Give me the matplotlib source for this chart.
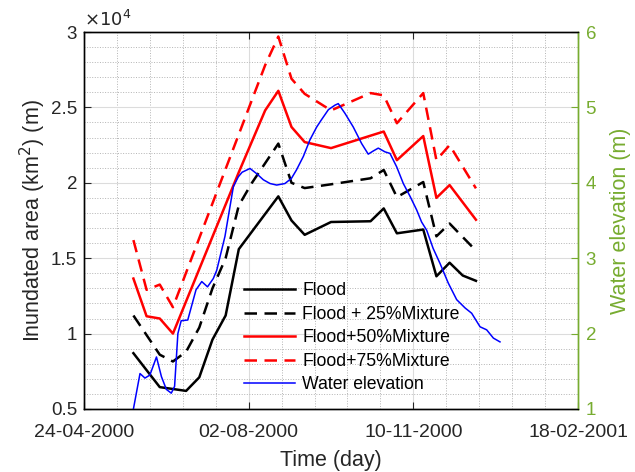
import numpy as np
import matplotlib
matplotlib.use("Agg")
import matplotlib.pyplot as plt
import matplotlib.dates as mdates
from matplotlib.ticker import MultipleLocator, FuncFormatter

plt.rcParams['font.family'] = ['Liberation Sans', 'DejaVu Sans']

# time axis starts on 24-04-2000, x values are days after that date
start = np.datetime64('2000-04-24')

# inundated area, in units of 10^4 km2
flood_day = [30, 46, 62, 70, 78, 86, 94, 118, 126, 134, 150, 174, 182, 190, 206, 214, 222, 230, 238]
flood = [0.87, 0.645, 0.62, 0.71, 0.96, 1.12, 1.56, 1.91, 1.75, 1.655, 1.74, 1.745, 1.83, 1.665, 1.69, 1.38, 1.47, 1.385, 1.35]

mix25_day = [30, 46, 54, 62, 70, 78, 86, 94, 102, 118, 126, 134, 150, 174, 182, 190, 206, 214, 222, 238]
mix25 = [1.12, 0.86, 0.815, 0.88, 1.04, 1.30, 1.50, 1.85, 2.0, 2.26, 2.0, 1.965, 1.99, 2.03, 2.085, 1.905, 2.005, 1.645, 1.73, 1.55]

mix50_day = [30, 38, 46, 54, 94, 110, 118, 126, 134, 150, 182, 190, 206, 214, 222, 238]
mix50 = [1.365, 1.115, 1.10, 1.0, 2.07, 2.48, 2.61, 2.37, 2.27, 2.23, 2.34, 2.15, 2.31, 1.90, 1.985, 1.755]

mix75_day = [30, 38, 46, 54, 110, 118, 126, 134, 150, 174, 182, 190, 206, 214, 222, 238]
mix75 = [1.62, 1.29, 1.325, 1.175, 2.78, 2.97, 2.69, 2.59, 2.48, 2.595, 2.58, 2.395, 2.595, 2.15, 2.25, 1.963]

# water elevation (m), right axis
wl_day = [30, 34, 37, 40, 44, 47, 50, 53, 55, 57, 59, 63, 65, 68, 71.5, 75, 78.5, 80.6, 83.6, 85.6,
          90.7, 93.7, 96, 100.8, 104.9, 108.9, 113, 117, 122, 126, 129, 133.2, 137.2, 141.3, 144,
          148.4, 152.4, 154.4, 158.5, 163.5, 168.6, 172.6, 175.5, 178.7, 182.8, 185.8, 189.9, 193.9,
          198, 202, 205, 208.1, 212, 216.2, 221.2, 226.3, 231.4, 235.4, 240.5, 244.5, 248.6, 252.6]
wl = [1.0, 1.47, 1.41, 1.45, 1.69, 1.43, 1.26, 1.21, 1.30, 2.0, 2.17, 2.18, 2.34, 2.58, 2.69, 2.62, 2.73, 2.84, 3.11, 3.29,
      3.95, 4.08, 4.14, 4.19, 4.12, 4.04, 3.99, 3.97, 3.99, 4.06, 4.17, 4.35, 4.57, 4.74, 4.83,
      4.97, 5.03, 5.05, 4.92, 4.74, 4.52, 4.38, 4.42, 4.46, 4.41, 4.39, 4.21, 3.99,
      3.82, 3.64, 3.48, 3.37, 3.13, 2.93, 2.67, 2.45, 2.34, 2.27, 2.09, 2.05, 1.94, 1.89]

date_ticks = ['2000-04-24', '2000-08-02', '2000-11-10', '2001-02-18']
green = '#77ac30'


def to_dates(days):
    return start + (np.array(days) * 24 * 60).astype('timedelta64[m]')


def main():
    fig = plt.figure(figsize=(6.35, 4.72), dpi=100)
    ax = fig.add_axes([0.1323, 0.1335, 0.7780, 0.7987])
    ax2 = ax.twinx()

    dash = (5, 3)
    lw = 1.8
    h1, = ax.plot(to_dates(flood_day), flood, color='k', lw=lw, label='Flood')
    h2, = ax.plot(to_dates(mix25_day), mix25, color='k', lw=lw, dashes=dash, label='Flood + 25%Mixture')
    h3, = ax.plot(to_dates(mix50_day), mix50, color='r', lw=lw, label='Flood+50%Mixture')
    h4, = ax.plot(to_dates(mix75_day), mix75, color='r', lw=lw, dashes=dash, label='Flood+75%Mixture')
    h5, = ax2.plot(to_dates(wl_day), wl, color='b', lw=1.1, label='Water elevation')

    # x axis
    ticks = [np.datetime64(d) for d in date_ticks]
    ax.set_xlim(ticks[0], ticks[-1])
    ax.set_xticks(ticks)
    ax.set_xticks(start + np.arange(0, 301, 20).astype('timedelta64[D]'), minor=True)
    ax.xaxis.set_major_formatter(mdates.DateFormatter('%d-%m-%Y'))
    ax.set_xlabel('Time (day)', fontsize=15.5, color='#262626', labelpad=6)

    # left axis
    ax.set_ylim(0.5, 3)
    ax.yaxis.set_major_locator(MultipleLocator(0.5))
    ax.yaxis.set_minor_locator(MultipleLocator(0.1))
    ax.yaxis.set_major_formatter(FuncFormatter(lambda v, p: '%g' % v))
    ax.set_ylabel('Inundated area (km$^2$) (m)', fontsize=15.5, color='#262626', labelpad=2)
    ax.text(0.0, 1.004, r'$\times 10^4$', transform=ax.transAxes, fontsize=13,
            color='#262626', ha='left', va='bottom')

    # right axis
    ax2.set_ylim(1, 6)
    ax2.yaxis.set_major_locator(MultipleLocator(1))
    ax2.set_ylabel('Water elevation (m)', fontsize=15.5, color=green, labelpad=10)

    ax.grid(True, which='major', color='#dcdcdc', lw=0.8, ls='-')
    ax.grid(True, which='minor', color='#b4b4b4', lw=0.7, ls=':')
    ax.set_axisbelow(True)

    ax.tick_params(which='major', direction='in', length=5, top=True, right=False,
                   labelsize=13.5, colors='#262626', pad=5)
    ax.tick_params(axis='x', which='major', labelsize=14, pad=11)
    ax.tick_params(which='minor', length=0, top=False)
    ax2.tick_params(direction='in', length=5, labelsize=13.5, colors=green, pad=5.5)
    for s in ['left', 'bottom', 'top']:
        ax.spines[s].set_color('#262626')
    ax.spines['right'].set_color(green)
    ax2.spines['right'].set_color(green)
    for a in (ax, ax2):
        for s in a.spines.values():
            s.set_linewidth(1.0)

    ax.legend(handles=[h1, h2, h3, h4, h5], loc='upper left', bbox_to_anchor=(0.31, 0.355),
              frameon=False, fontsize=12.7, handlelength=2.9, handletextpad=0.4,
              labelspacing=0.37, borderaxespad=0.0)

    fig.savefig('out.png', dpi=100)


if __name__ == "__main__":
    main()
